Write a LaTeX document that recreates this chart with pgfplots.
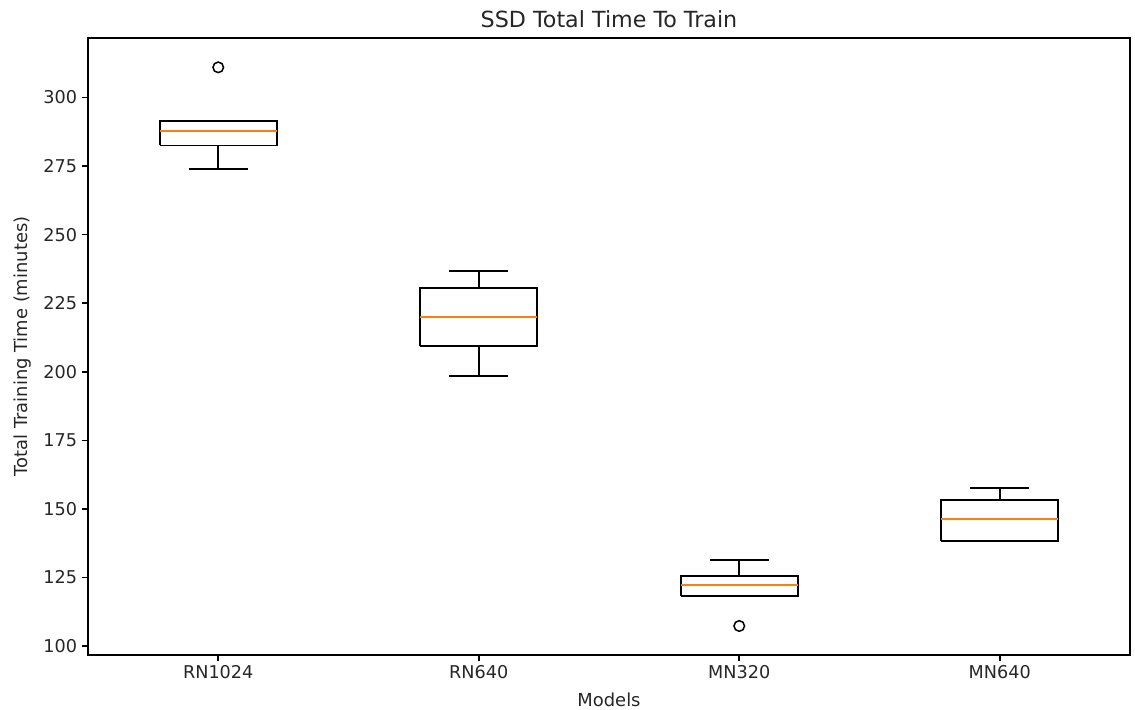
\documentclass[border=0pt]{standalone}
\usepackage{fontspec}
\setmainfont{DejaVu Sans}
\usepackage{pgfplots}
\pgfplotsset{compat=1.18}
\definecolor{mplorange}{HTML}{FF7F0E}
\begin{document}
\begin{tikzpicture}
\begin{axis}[
  scale only axis,
  width=750.24pt, height=444.24pt,
  xmin=0.5, xmax=4.5,
  ymin=96.72, ymax=321.7,
  xtick={1,2,3,4},
  xticklabels={RN1024,RN640,MN320,MN640},
  ytick={100,125,150,175,200,225,250,275,300},
  tick align=outside,
  major tick length=4.3pt,
  xtick pos=bottom, ytick pos=left,
  axis line style={line width=1.1pt},
  every tick/.append style={black, line width=1.1pt},
  tick label style={font=\fontsize{12.7pt}{15pt}\selectfont, color=black!85},
  every axis title shift=0pt,
  title style={font=\fontsize{16pt}{19pt}\selectfont, at={(axis description cs:0.5,1.0173)}, anchor=base, color=black!85},
  every axis x label/.style={at={(axis description cs:0.5,-0.0827)}, anchor=base, font=\fontsize{12.9pt}{15pt}\selectfont, color=black!85},
  every axis y label/.style={at={(axis description cs:-0.0625,0.5)}, rotate=90, anchor=center, font=\fontsize{12.9pt}{15pt}\selectfont, color=black!85},
  /pgf/number format/assume math mode=true,
  title={SSD Total Time To Train},
  xlabel={Models},
  ylabel={Total Training Time (minutes)},
  unbounded coords=jump,
  clip=false,
]
% RN1024: LW 274.0, Q1 282.5, M 287.6, Q3 291.5, UW 291.5
\addplot[black, line width=1.3pt, mark=none] coordinates {(0.775,282.5) (1.225,282.5) (1.225,291.5) (0.775,291.5) (0.775,282.5)};
\addplot[black, line width=1.3pt, mark=none] coordinates {(1,282.5) (1,274.0) (1,nan) (0.8875,274.0) (1.1125,274.0) (1,nan) (0.8875,291.5) (1.1125,291.5)};
\addplot[mplorange, line width=1.5pt, mark=none] coordinates {(0.775,287.8) (1.225,287.8)};
% RN640: LW 198.4, Q1 209.5, M 220.0, Q3 230.5, UW 236.8
\addplot[black, line width=1.3pt, mark=none] coordinates {(1.775,209.5) (2.225,209.5) (2.225,230.5) (1.775,230.5) (1.775,209.5)};
\addplot[black, line width=1.3pt, mark=none] coordinates {(2,209.5) (2,198.4) (2,nan) (1.8875,198.4) (2.1125,198.4) (2,nan) (2,230.5) (2,236.8) (2,nan) (1.8875,236.8) (2.1125,236.8)};
\addplot[mplorange, line width=1.5pt, mark=none] coordinates {(1.775,220.0) (2.225,220.0)};
% MN320: LW 118.3, Q1 118.3, M 122.2, Q3 125.4, UW 131.5
\addplot[black, line width=1.3pt, mark=none] coordinates {(2.775,118.3) (3.225,118.3) (3.225,125.4) (2.775,125.4) (2.775,118.3)};
\addplot[black, line width=1.3pt, mark=none] coordinates {(2.8875,118.3) (3.1125,118.3) (3,nan) (3,125.4) (3,131.5) (3,nan) (2.8875,131.5) (3.1125,131.5)};
\addplot[mplorange, line width=1.5pt, mark=none] coordinates {(2.775,122.2) (3.225,122.2)};
% MN640: LW 138.4, Q1 138.4, M 146.2, Q3 153.1, UW 157.5
\addplot[black, line width=1.3pt, mark=none] coordinates {(3.775,138.4) (4.225,138.4) (4.225,153.1) (3.775,153.1) (3.775,138.4)};
\addplot[black, line width=1.3pt, mark=none] coordinates {(3.8875,138.4) (4.1125,138.4) (4,nan) (4,153.1) (4,157.5) (4,nan) (3.8875,157.5) (4.1125,157.5)};
\addplot[mplorange, line width=1.5pt, mark=none] coordinates {(3.775,146.2) (4.225,146.2)};
% outliers
\addplot[only marks, black, mark=o, mark size=3.8pt, mark options={line width=1.1pt}]
  coordinates {(1,311.0) (3,107.3)};
\end{axis}
\pgfresetboundingbox
\path (-63.36pt,-39.6pt) rectangle (753.84pt,471.6pt);
\end{tikzpicture}
\end{document}
